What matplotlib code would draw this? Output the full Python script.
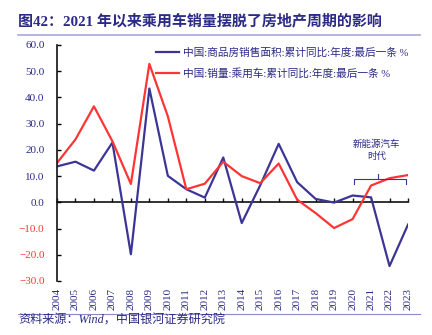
import matplotlib
matplotlib.use("Agg")
import matplotlib.pyplot as plt
from matplotlib.lines import Line2D

plt.rcParams['font.family'] = ['Liberation Serif', 'Noto Sans CJK SC', 'DejaVu Sans']

years = list(range(2004, 2024))
housing_sales_area = [13.7, 15.5, 12.1, 22.8, -19.8, 43.4, 10.1, 5.0, 1.8, 17.1,
                      -7.9, 6.5, 22.3, 7.7, 1.3, -0.1, 2.6, 1.9, -24.3, -8.5]
car_sales = [15.0, 24.0, 36.6, 23.3, 7.0, 52.8, 32.8, 5.0, 7.1, 15.5,
             10.0, 7.3, 14.8, 1.0, -4.1, -9.8, -6.4, 6.4, 9.2, 10.4]
series_names = ["中国:商品房销售面积:累计同比:年度:最后一条 %",
                "中国:销量:乘用车:累计同比:年度:最后一条 %"]
y_ticks = [60, 50, 40, 30, 20, 10, 0, -10, -20, -30]
title_text = "图42：2021 年以来乘用车销量摆脱了房地产周期的影响"
source_text = "资料来源：Wind，中国银河证券研究院"
note_text = "新能源汽车\n时代"

NAVY = "#2b2a86"
BLUE = "#3d3596"
RED = "#ff3535"

fig = plt.figure(figsize=(4.32, 3.35), dpi=100)
ax = fig.add_axes([57 / 432, 1 - 281 / 335, 351 / 432, 236 / 335])

ax.plot(years, housing_sales_area, color=BLUE, lw=1.6, label=series_names[0])
ax.plot(years, car_sales, color=RED, lw=1.6, label=series_names[1])

ax.set_xlim(2004, 2023)
ax.set_ylim(-30, 60)

# y axis
ax.set_yticks(y_ticks)
ax.set_yticklabels([f"{v:.1f}".replace("-", "−") for v in y_ticks], fontsize=8)
for lbl, v in zip(ax.get_yticklabels(), y_ticks):
    lbl.set_color(RED if v < 0 else NAVY)
ax.tick_params(axis='y', direction='in', length=3, width=1.0, pad=9)
ax.spines['left'].set_linewidth(1.2)
ax.spines['left'].set_color('#111111')
ax.spines['top'].set_visible(False)
ax.spines['right'].set_visible(False)
ax.spines['bottom'].set_visible(False)

# x labels under the plot area
ax.set_xticks(years)
ax.set_xticklabels([str(y) for y in years], rotation=90, fontsize=8, color=NAVY)
ax.tick_params(axis='x', length=0, pad=5)

# zero line carrying the year ticks
zero_ax = ax.secondary_xaxis(location=30 / 90)
zero_ax.set_xticks(years)
zero_ax.set_xticklabels([])
zero_ax.tick_params(axis='x', direction='in', length=3, width=1.0, color='#111111')
zero_ax.spines['bottom'].set_linewidth(1.2)
zero_ax.spines['bottom'].set_color('#111111')
zero_ax.spines['top'].set_linewidth(1.2)
zero_ax.spines['top'].set_color('#111111')

leg = ax.legend(loc='upper left', bbox_to_anchor=(0.283, 0.988), frameon=False,
                fontsize=7.7, handlelength=2.1, handletextpad=0.35,
                labelspacing=0.9, borderpad=0, borderaxespad=0)
for t in leg.get_texts():
    t.set_color(NAVY)

# bracket marking the new-energy period
bx0, bx1, bmid = 2020.1, 2022.9, 2021.4
by, bend, btop = 8.8, 7.0, 10.8
ax.add_line(Line2D([bx0, bx0, bx1, bx1], [bend, by, by, bend], color=BLUE, lw=0.8))
ax.add_line(Line2D([bmid, bmid], [by, btop], color=BLUE, lw=0.8))
ax.text(2021.3, 19.8, note_text, ha='center', va='center', fontsize=6.8,
        color=NAVY, linespacing=1.35)

# title and source
fig.text(18 / 432, 1 - 21 / 335, title_text, fontsize=10.8, fontweight='bold',
         color=NAVY, ha='left', va='center')
fig.add_artist(Line2D([18 / 432, 420 / 432], [1 - 34.5 / 335] * 2,
                      color='#a8a8d8', lw=1.2))
fig.add_artist(Line2D([18 / 432, 420 / 432], [1 - 313.5 / 335] * 2,
                      color='#8a8ac8', lw=0.8))
fig.text(18 / 432, 1 - 321 / 335, source_text, fontsize=8.7, style='italic',
         color=NAVY, ha='left', va='center')

fig.savefig("out.png", dpi=100)
